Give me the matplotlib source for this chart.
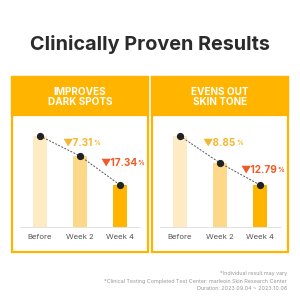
import matplotlib.pyplot as plt
from matplotlib.patches import Rectangle

# data
categories = ["Before", "Week 2", "Week 4"]
dark_spots = [91, 71, 42]
skin_tone = [91, 64, 42]
dark_spots_drops = ["7.31", "17.34"]
skin_tone_drops = ["8.85", "12.79"]
panel_titles = ["IMPROVES\nDARK SPOTS", "EVENS OUT\nSKIN TONE"]
footnotes = [
    "*Individual result may vary",
    "*Clinical Testing Completed Test Center: marleoin Skin Research Center",
    "Duration: 2023.09.04 ~ 2023.10.06",
]

ORANGE = "#FFB400"
BAR_COLORS = ["#FEEBC4", "#FDD888", "#FFB400"]
DROP_COLORS = ["#F4B731", "#F15A24"]
FONT = ["Inter", "DejaVu Sans"]

W, H = 300, 300
fig = plt.figure(figsize=(3, 3), dpi=100)
fig.patch.set_facecolor("white")


def fx(px):
    return px / W


def fy(py):
    # pixel y measured from top
    return 1 - py / H


fig.text(0.5, fy(45), "Clinically Proven Results", ha="center", va="center",
         fontsize=14.3, fontweight="bold", color="#2b2b2b", family=FONT)

panels = [
    (12, dark_spots, dark_spots_drops, panel_titles[0]),
    (152, skin_tone, skin_tone_drops, panel_titles[1]),
]
top, bottom, head_h, pw = 77, 252, 38, 136

for x0, values, drops, title in panels:
    # panel frame and header
    fig.patches.append(Rectangle((fx(x0), fy(bottom)), fx(pw), (bottom - top) / H,
                                 transform=fig.transFigure, facecolor="white",
                                 edgecolor=ORANGE, linewidth=1.6, zorder=0))
    fig.patches.append(Rectangle((fx(x0), fy(top + head_h)), fx(pw), head_h / H,
                                 transform=fig.transFigure, facecolor=ORANGE,
                                 edgecolor=ORANGE, linewidth=1.6, zorder=0))
    fig.text(fx(x0 + pw / 2), fy(top + head_h / 2 + 1), title, ha="center", va="center",
             fontsize=7.2, fontweight="bold", color="white", linespacing=1.1, family=FONT)

    # bar chart area: baseline at y=227, 100 px tall
    ax = fig.add_axes([fx(x0 + 8), fy(227), fx(120), 100 / H])
    ax.set_zorder(2)
    ax.set_facecolor("none")
    xs = range(len(categories))
    ax.bar(xs, values, width=0.35, color=BAR_COLORS, zorder=1)
    ax.plot(xs, values, linestyle=(0, (2, 1.5)), color="#555555", linewidth=0.7, zorder=2)
    ax.plot(xs, values, "o", color="#222222", markersize=4.2, zorder=3)
    ax.set_xlim(-0.5, 2.5)
    ax.set_ylim(0, 100)
    ax.set_xticks(list(xs))
    ax.set_xticklabels(categories, fontsize=5.6, color="#555555", family=FONT)
    ax.tick_params(axis="x", length=0, pad=5)
    ax.set_yticks([])
    for side in ["top", "right", "left"]:
        ax.spines[side].set_visible(False)
    ax.spines["bottom"].set_color("#dddddd")
    ax.spines["bottom"].set_linewidth(0.6)

    # percentage drop labels
    label_pos = [(0.56, values[0] - 7), (1.5, values[1] - 7)]
    for (lx, ly), drop, col in zip(label_pos, drops, DROP_COLORS):
        t = ax.text(lx, ly, "\u25bc" + drop, ha="left", va="center", fontsize=7.2,
                    fontweight="bold", color=col, family=FONT, clip_on=False)
        ax.annotate("%", xy=(1, 0.2), xycoords=t, xytext=(0.1, 0),
                    textcoords="offset points", ha="left", va="bottom",
                    fontsize=4.8, fontweight="bold", color=col, family=FONT)

for i, line in enumerate(footnotes):
    fig.text(fx(287), fy(274 + i * 7), line, ha="right", va="center",
             fontsize=3.9, color="#999999", family=FONT)

fig.savefig("out.png", dpi=100, facecolor="white")
